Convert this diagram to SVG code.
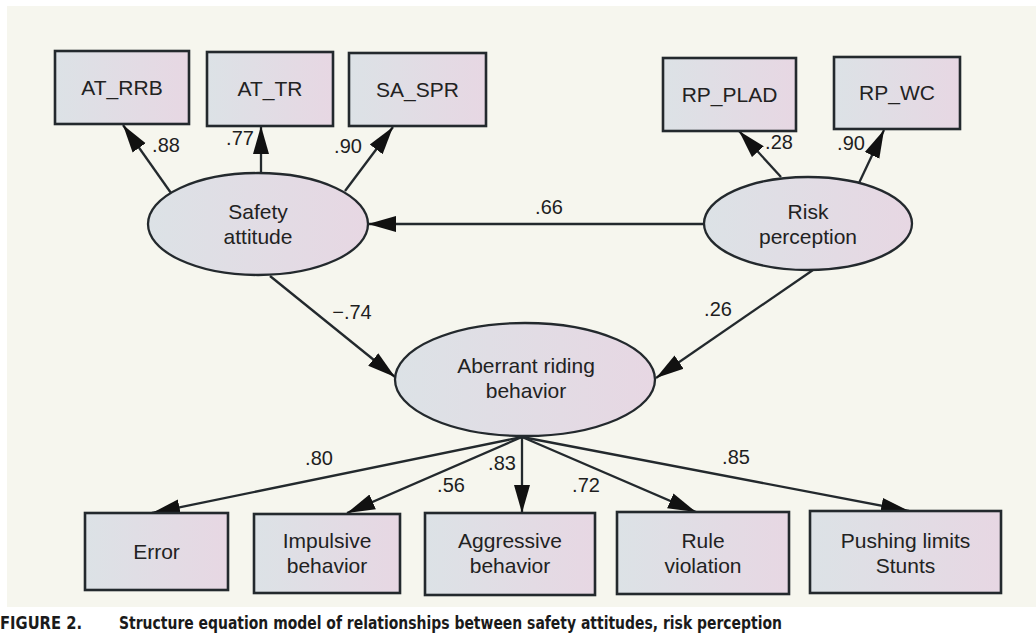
<svg xmlns="http://www.w3.org/2000/svg" width="1036" height="635" viewBox="0 0 1036 635">
<defs>
<linearGradient id="fillg" x1="0" y1="0" x2="1" y2="0">
<stop offset="0" stop-color="#dce2e6"/>
<stop offset="1" stop-color="#e7d7e3"/>
</linearGradient>
<marker id="ah" markerUnits="userSpaceOnUse" markerWidth="29" markerHeight="18" refX="28" refY="9" orient="auto">
<path d="M0,1 L28,9 L0,17 z" fill="#111"/>
</marker>
<style>
.box{fill:url(#fillg);stroke:#23292d;stroke-width:2.6}
.ell{fill:url(#fillg);stroke:#23292d;stroke-width:2.3}
.t{font-family:"Liberation Sans",Arial,sans-serif;font-size:21px;fill:#222;text-anchor:middle}
.lab{font-family:"Liberation Sans",Arial,sans-serif;font-size:20px;fill:#1e1e1e;text-anchor:middle}
.c{stroke:#23292d;stroke-width:2.3;fill:none;marker-end:url(#ah)}
.cap{font-family:"DejaVu Sans Condensed","DejaVu Sans",sans-serif;font-weight:bold;font-size:18px;fill:#1a1a1a}
</style>
</defs>
<rect x="0" y="0" width="1036" height="635" fill="#ffffff"/>
<rect x="7" y="6" width="1029" height="601" fill="#f6f6ee"/>

<g id="connectors">
<line class="c" x1="171" y1="193" x2="123" y2="125"/>
<line class="c" x1="261" y1="173" x2="261" y2="126"/>
<line class="c" x1="345" y1="191" x2="393" y2="127"/>
<line class="c" x1="781" y1="177" x2="739" y2="131"/>
<line class="c" x1="859" y1="183" x2="884" y2="130"/>
<line class="c" x1="704" y1="224" x2="368" y2="224"/>
<line class="c" x1="270" y1="276" x2="395" y2="377"/>
<line class="c" x1="813" y1="270" x2="656" y2="378"/>
<line class="c" x1="522" y1="437" x2="152" y2="513"/>
<line class="c" x1="522" y1="437" x2="347" y2="513"/>
<line class="c" x1="522" y1="437" x2="522" y2="513"/>
<line class="c" x1="522" y1="437" x2="696" y2="512"/>
<line class="c" x1="522" y1="437" x2="909" y2="511"/>
<text class="lab" x="166" y="152">.88</text>
<text class="lab" x="240" y="145">.77</text>
<text class="lab" x="348" y="153">.90</text>
<text class="lab" x="779" y="149">.28</text>
<text class="lab" x="851" y="150">.90</text>
<text class="lab" x="549" y="214">.66</text>
<text class="lab" x="352" y="319">−.74</text>
<text class="lab" x="718" y="316">.26</text>
<text class="lab" x="319" y="465">.80</text>
<text class="lab" x="451" y="492">.56</text>
<text class="lab" x="502" y="470">.83</text>
<text class="lab" x="586" y="492">.72</text>
<text class="lab" x="736" y="464">.85</text>
</g>

<g id="AT_RRB"><rect class="box" x="55" y="51" width="134" height="73"/><text class="t" x="122" y="95">AT_RRB</text></g>
<g id="AT_TR"><rect class="box" x="207" y="52" width="126" height="74"/><text class="t" x="270" y="96">AT_TR</text></g>
<g id="SA_SPR"><rect class="box" x="349" y="53" width="137" height="73"/><text class="t" x="417.5" y="97">SA_SPR</text></g>
<g id="RP_PLAD"><rect class="box" x="663" y="58" width="133" height="73"/><text class="t" x="729.5" y="102">RP_PLAD</text></g>
<g id="RP_WC"><rect class="box" x="834" y="57" width="126" height="72"/><text class="t" x="897" y="100">RP_WC</text></g>

<g id="safety_attitude"><ellipse class="ell" cx="258" cy="224" rx="110" ry="51"/><text class="t" x="258" y="219">Safety</text><text class="t" x="258" y="244">attitude</text></g>
<g id="risk_perception"><ellipse class="ell" cx="808" cy="223.5" rx="104" ry="46.5"/><text class="t" x="808" y="219">Risk</text><text class="t" x="808" y="244">perception</text></g>
<g id="aberrant_riding"><ellipse class="ell" cx="525" cy="379.5" rx="130" ry="56.5"/><text class="t" x="526" y="373">Aberrant riding</text><text class="t" x="526" y="398">behavior</text></g>

<g id="error"><rect class="box" x="85" y="513" width="143" height="77"/><text class="t" x="156.5" y="559">Error</text></g>
<g id="impulsive"><rect class="box" x="254" y="514" width="146" height="79"/><text class="t" x="327" y="548">Impulsive</text><text class="t" x="327" y="573">behavior</text></g>
<g id="aggressive"><rect class="box" x="425" y="513" width="170" height="82"/><text class="t" x="510" y="548">Aggressive</text><text class="t" x="510" y="573">behavior</text></g>
<g id="rule"><rect class="box" x="617" y="512" width="172" height="82"/><text class="t" x="703" y="548">Rule</text><text class="t" x="703" y="573">violation</text></g>
<g id="pushing"><rect class="box" x="810" y="511" width="191" height="82"/><text class="t" x="905.5" y="548">Pushing limits</text><text class="t" x="905.5" y="573">Stunts</text></g>

<text class="cap" x="0" y="629" textLength="82" lengthAdjust="spacingAndGlyphs">FIGURE 2.</text>
<text class="cap" x="119" y="629" textLength="663" lengthAdjust="spacingAndGlyphs">Structure equation model of relationships between safety attitudes, risk perception</text>
</svg>
